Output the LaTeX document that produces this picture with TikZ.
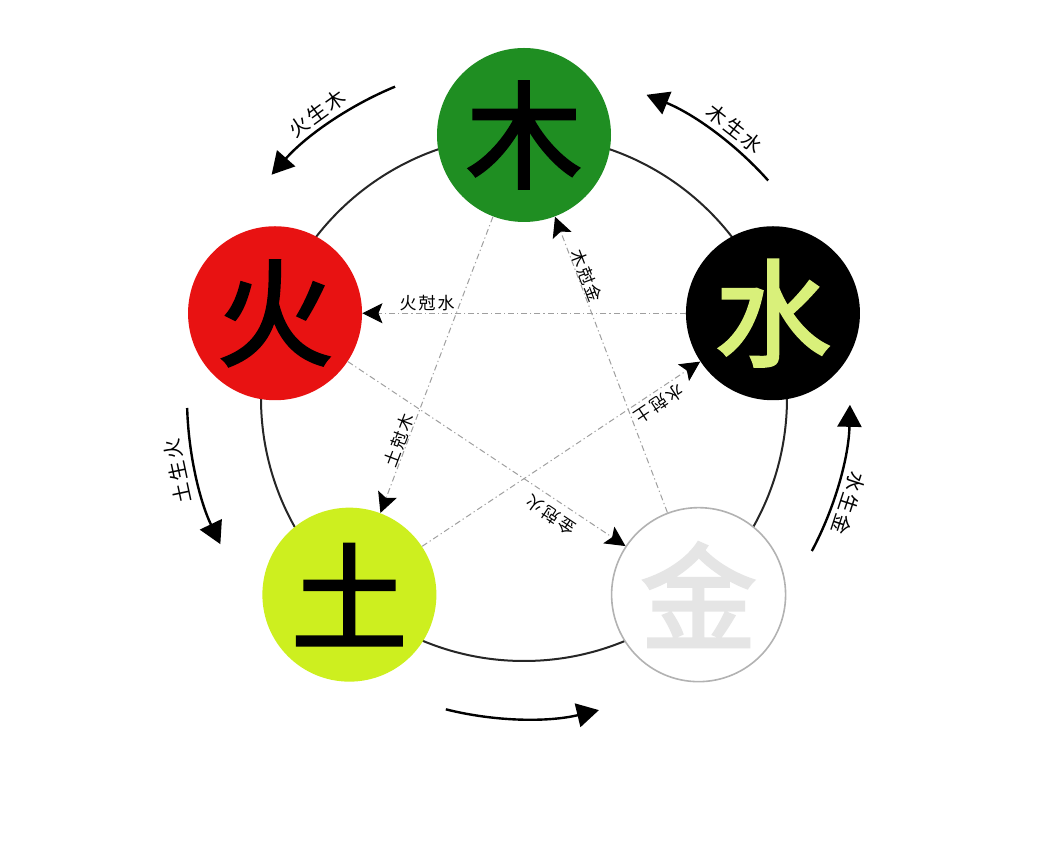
\documentclass[tikz,border=0pt]{standalone}
\usepackage{fontspec}
\newfontfamily\cjk{Noto Sans CJK SC}[LetterSpace=12]
\newfontfamily\cjkbig{Noto Sans CJK SC}[FakeBold=2.5]
\usetikzlibrary{arrows.meta,positioning}
\definecolor{wood}{HTML}{1F8E22}
\definecolor{fire}{HTML}{E81212}
\definecolor{earth}{HTML}{CDEF1F}
\definecolor{watertext}{HTML}{D9F07A}

\begin{document}
\begin{tikzpicture}[
    x=0.5pt, y=0.5pt,
    elem/.style={circle, minimum size=87pt, inner sep=0pt, font=\cjkbig\fontsize{58}{60}\selectfont},
    ring/.style={draw=black!85, line width=1pt},
    sheng/.style={line width=1.2pt, -{Triangle[length=11pt,width=12pt]}},
    slabel/.style={font=\cjk\fontsize{10}{12}\selectfont, inner sep=1pt},
    ke/.style={draw=gray!75, line width=0.5pt, dash pattern=on 3pt off 1.5pt on 0.6pt off 1.5pt,
        -{Stealth[length=10pt,width=10pt,inset=2pt,color=black]}},
    klabel/.style={font=\cjk\fontsize{8.5}{10}\selectfont, inner sep=1pt}
]
\useasboundingbox (-524,-446) rectangle (514,398);

% Ring behind the elements
\draw[ring] (0,0) circle[radius=263];

% Elements
\node[elem, fill=wood] (mu) at (90:263) {木};
\node[elem, fill=black, text=watertext] (shui) at (18.8:263) {水};
\node[elem, fill=white, draw=gray!60, line width=0.8pt, text=white!90!black] (jin) at (311.6:263) {金};
\node[elem, fill=earth] (tu) at (228.4:263) {土};
\node[elem, fill=fire] (huo) at (161.2:263) {火};

% Outer arrows
\draw[sheng] (112.5:337) arc[start angle=112.5, end angle=138.5, radius=337];
\draw[sheng] (41.7:327) arc[start angle=41.7, end angle=68, radius=327];
\draw[sheng] (181.7:337) arc[start angle=181.7, end angle=205.7, radius=337];
\draw[sheng] (-28:326) arc[start angle=-28, end angle=-1.2, radius=326];
\draw[sheng] (255.9:321) arc[start angle=255.9, end angle=283.5, radius=321];

\node[slabel, rotate=36] (l-huomu) at (126:352) {火生木};
\node[slabel, rotate=-38] (l-mushui) at (52:342) {木生水};
\node[slabel, rotate=102] (l-tuhuo) at (192:354) {土生火};
\node[slabel, rotate=-108] (l-shuijin) at (-18:341) {水生金};

% Inner star
\draw[ke] (shui) -- node[klabel, sloped, above, pos=0.8] (k-huoshui) {火尅水} (huo);
\draw[ke] (jin) -- node[klabel, sloped, above=-1pt, pos=0.79] (k-mujin) {木尅金} (mu);
\draw[ke] (mu) -- node[klabel, sloped, above=-1pt, pos=0.765] (k-tumu) {土尅木} (tu);
\draw[ke] (tu) -- node[klabel, rotate=213.6, above=-1pt, pos=0.83] (k-shuitu) {水尅土} (shui);
\draw[ke] (huo) -- node[klabel, rotate=146.4, above=-3pt, pos=0.753] (k-jinhuo) {金尅火} (jin);

\end{tikzpicture}
\end{document}
